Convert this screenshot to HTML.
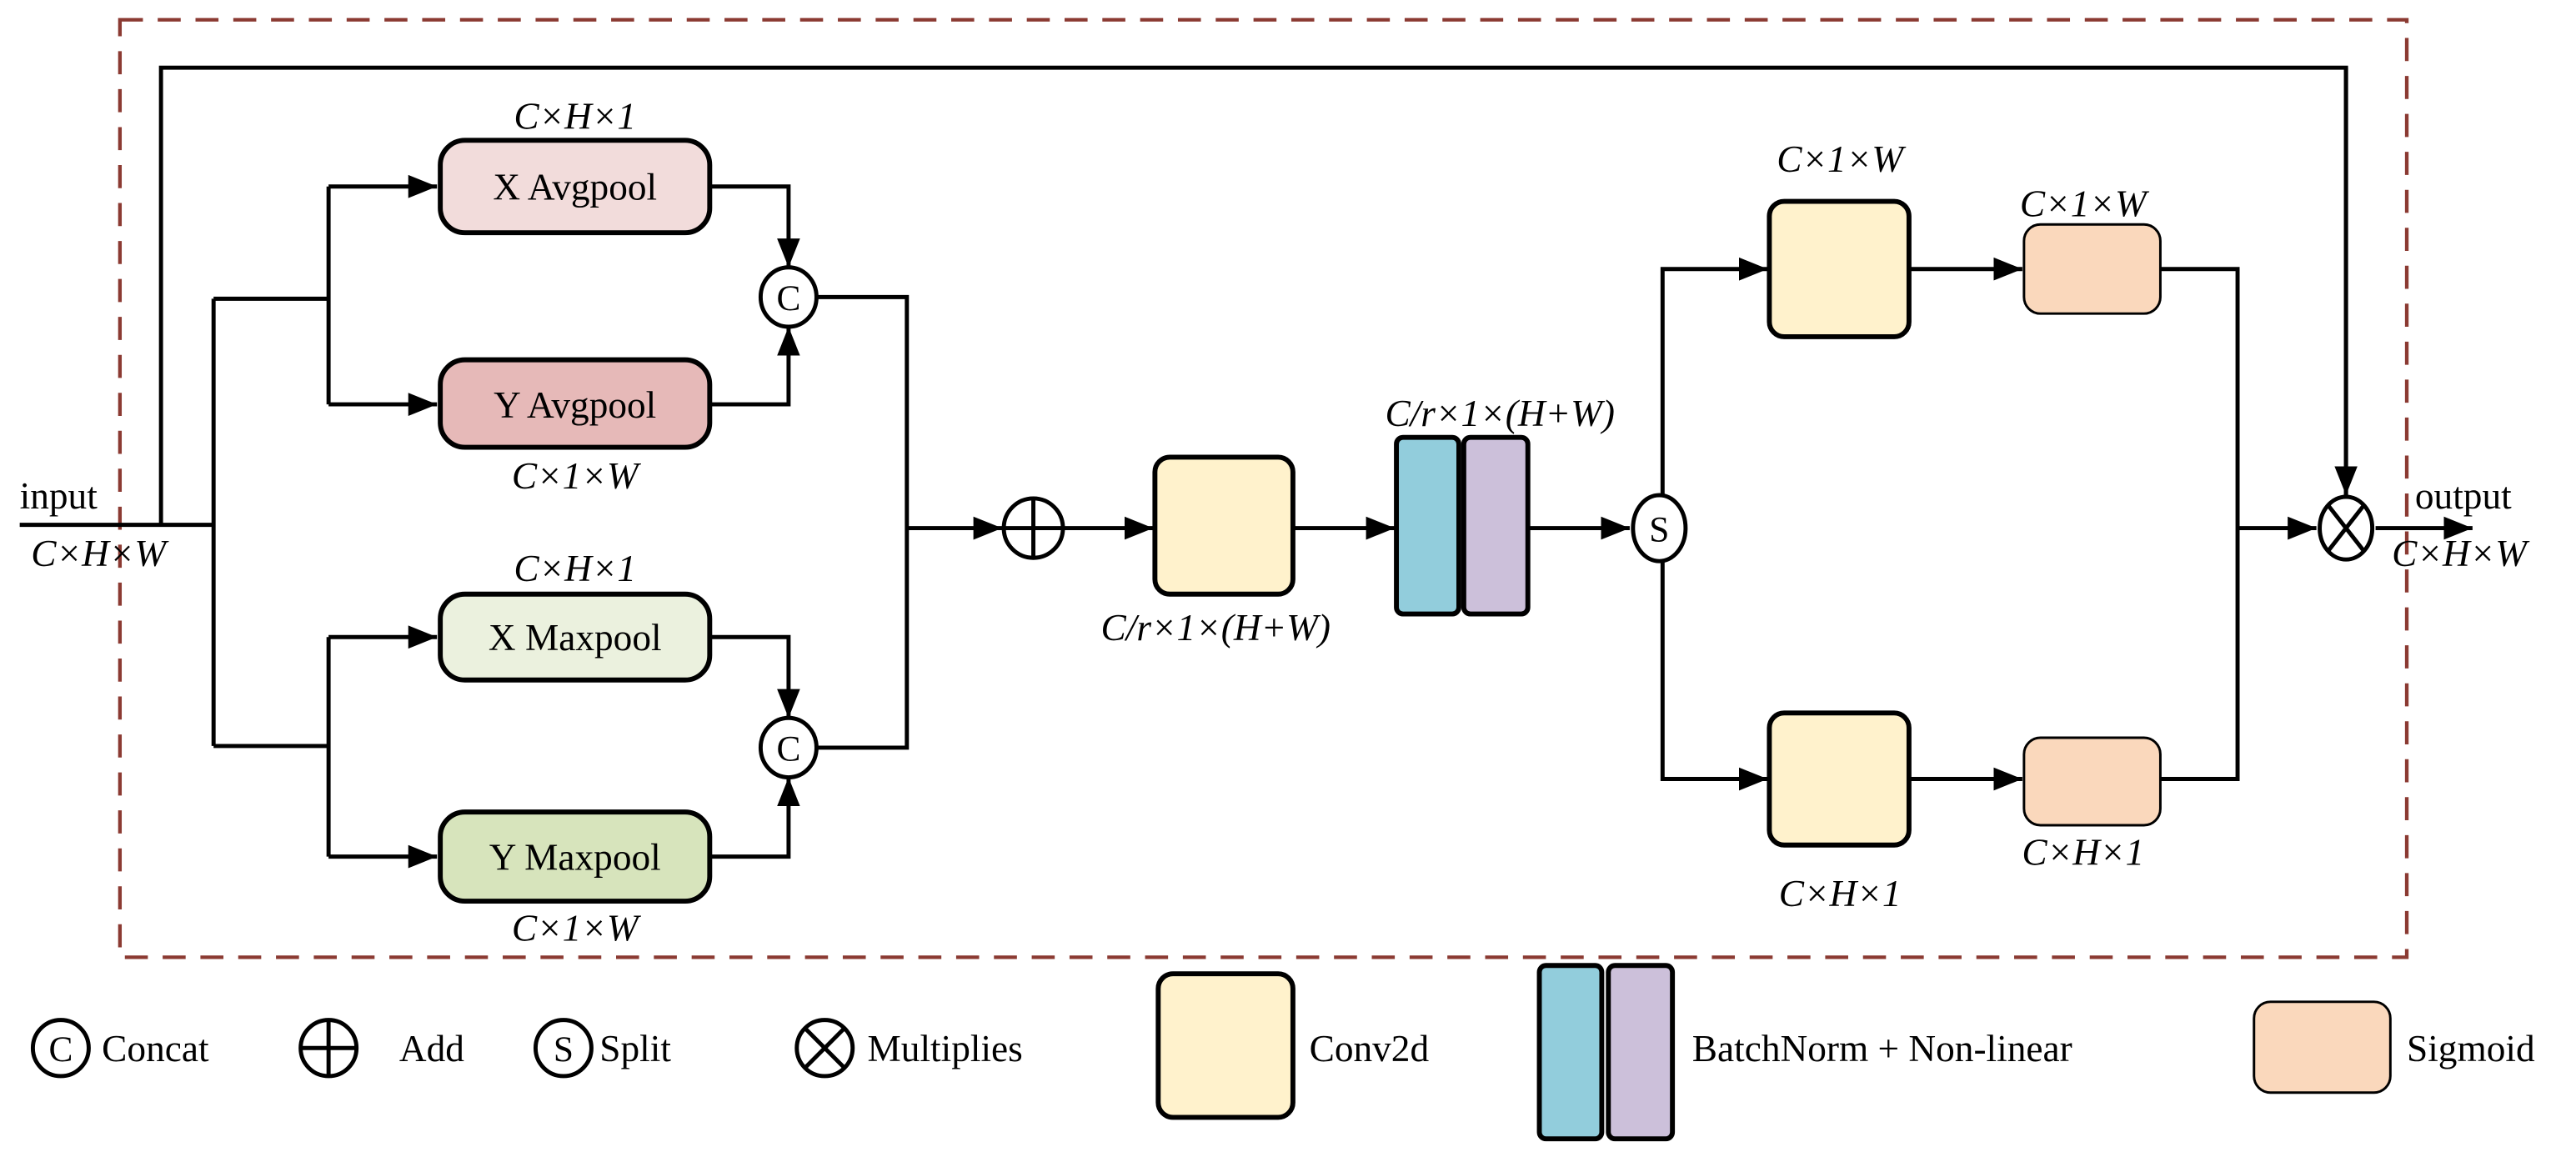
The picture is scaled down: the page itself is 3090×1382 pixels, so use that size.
<!DOCTYPE html>
<html><head><meta charset="utf-8"><style>
html,body{margin:0;padding:0;background:#fff}
svg{display:block}
text{font-family:"Liberation Serif",serif;fill:#000}
.i{font-style:italic;font-size:23px}
.b{font-size:23px}
</style></head><body>
<svg width="3090" height="1382" viewBox="0 0 1568 698" preserveAspectRatio="none" xmlns="http://www.w3.org/2000/svg">
<defs>
<marker id="A" viewBox="0 0 10 10" refX="10" refY="5" markerWidth="7" markerHeight="7" orient="auto"><path d="M0,1L10,5L0,9z" fill="#000"/></marker>
</defs>
<rect x="73" y="12" width="1392" height="568" fill="none" stroke="#8B3A32" stroke-width="2.2" stroke-dasharray="14,9"/>
<g fill="none" stroke="#000" stroke-width="2.5">
<path d="M12,318H130M98,318V41H1428V300" />
<path d="M1428,41V300" marker-end="url(#A)"/>
<path d="M130,181V452M130,181H200M130,452H200M200,113V245M200,386V519"/>
<path d="M200,113H266" marker-end="url(#A)"/>
<path d="M200,245H266" marker-end="url(#A)"/>
<path d="M200,386H266" marker-end="url(#A)"/>
<path d="M200,519H266" marker-end="url(#A)"/>
<path d="M432,113H480V162" marker-end="url(#A)"/>
<path d="M432,245H480V198" marker-end="url(#A)"/>
<path d="M432,386H480V435" marker-end="url(#A)"/>
<path d="M432,519H480V471" marker-end="url(#A)"/>
<path d="M497,180H552V453H497M552,320H610" marker-end="url(#A)"/>
<path d="M647,320H702" marker-end="url(#A)"/>
<path d="M787,320H849" marker-end="url(#A)"/>
<path d="M930,320H992" marker-end="url(#A)"/>
<path d="M1012,300V163H1076" marker-end="url(#A)"/>
<path d="M1012,340V472H1076" marker-end="url(#A)"/>
<path d="M1162,163H1231" marker-end="url(#A)"/>
<path d="M1162,472H1231" marker-end="url(#A)"/>
<path d="M1315,163H1362V472H1315M1362,320H1410" marker-end="url(#A)"/>
<path d="M1446,320H1505" marker-end="url(#A)"/>
</g>
<g stroke="#000" stroke-width="3">
<rect x="268" y="85" width="164" height="56" rx="15" fill="#F2DCDB"/>
<rect x="268" y="218" width="164" height="53" rx="15" fill="#E6B9B8"/>
<rect x="268" y="360" width="164" height="52" rx="15" fill="#EBF1DE"/>
<rect x="268" y="492" width="164" height="54" rx="15" fill="#D7E4BC"/>
<rect x="703" y="277" width="84" height="83" rx="9" fill="#FFF2CC"/>
<rect x="850" y="265" width="38" height="107" rx="4" fill="#92CDDC"/>
<rect x="891" y="265" width="39" height="107" rx="4" fill="#CCC0DA"/>
<rect x="1077" y="122" width="85" height="82" rx="9" fill="#FFF2CC"/>
<rect x="1077" y="432" width="85" height="80" rx="9" fill="#FFF2CC"/>
<rect x="705" y="590" width="82" height="87" rx="9" fill="#FFF2CC"/>
<rect x="937" y="585" width="38" height="105" rx="4" fill="#92CDDC"/>
<rect x="979" y="585" width="39" height="105" rx="4" fill="#CCC0DA"/>
</g>
<g stroke="#000" stroke-width="1.5">
<rect x="1232" y="136" width="83" height="54" rx="10" fill="#FAD8BC"/>
<rect x="1232" y="447" width="83" height="53" rx="10" fill="#FAD8BC"/>
<rect x="1372" y="607" width="83" height="55" rx="10" fill="#FAD8BC"/>
</g>
<g fill="#fff" stroke="#000" stroke-width="2.5">
<ellipse cx="480" cy="180" rx="17" ry="18"/>
<ellipse cx="480" cy="453" rx="17" ry="18"/>
<circle cx="629" cy="320" r="18"/>
<ellipse cx="1010" cy="320" rx="16" ry="20"/>
<ellipse cx="1428" cy="320" rx="16" ry="19"/>
<circle cx="37" cy="635" r="17"/>
<circle cx="200" cy="635" r="17"/>
<circle cx="343" cy="635" r="17"/>
<circle cx="502" cy="635" r="17"/>
</g>
<g stroke="#000" stroke-width="2.5">
<path d="M611,320H647M629,302V338"/>
<path d="M1417,306L1439,334M1439,306L1417,334"/>
<path d="M183,635H217M200,618V652"/>
<path d="M490,623L514,647M514,623L490,647"/>
</g>
<g font-size="22" text-anchor="middle">
<text x="480" y="188">C</text><text x="480" y="461">C</text>
<text x="1010" y="328">S</text><text x="37" y="643">C</text><text x="343" y="643">S</text>
</g>
<g class="b" text-anchor="middle">
<text x="350" y="121">X Avgpool</text>
<text x="350" y="253">Y Avgpool</text>
<text x="350" y="394">X Maxpool</text>
<text x="350" y="527">Y Maxpool</text>
</g>
<g class="i" text-anchor="middle">
<text x="350" y="78">C×H×1</text>
<text x="350" y="296">C×1×W</text>
<text x="350" y="352">C×H×1</text>
<text x="350" y="570">C×1×W</text>
<text x="740" y="388">C/r×1×(H+W)</text>
<text x="913" y="258">C/r×1×(H+W)</text>
<text x="1120" y="104">C×1×W</text>
<text x="1120" y="549">C×H×1</text>
<text x="1268" y="131">C×1×W</text>
<text x="1268" y="524">C×H×1</text>
<text x="60" y="343">C×H×W</text>
<text x="1497" y="343">C×H×W</text>
</g>
<text x="12" y="308" class="b">input</text>
<text x="1470" y="308" class="b">output</text>
<g class="b">
<text x="62" y="643">Concat</text>
<text x="243" y="643">Add</text>
<text x="365" y="643">Split</text>
<text x="528" y="643">Multiplies</text>
<text x="797" y="643">Conv2d</text>
<text x="1030" y="643">BatchNorm + Non-linear</text>
<text x="1465" y="643">Sigmoid</text>
</g>
</svg>
</body></html>
